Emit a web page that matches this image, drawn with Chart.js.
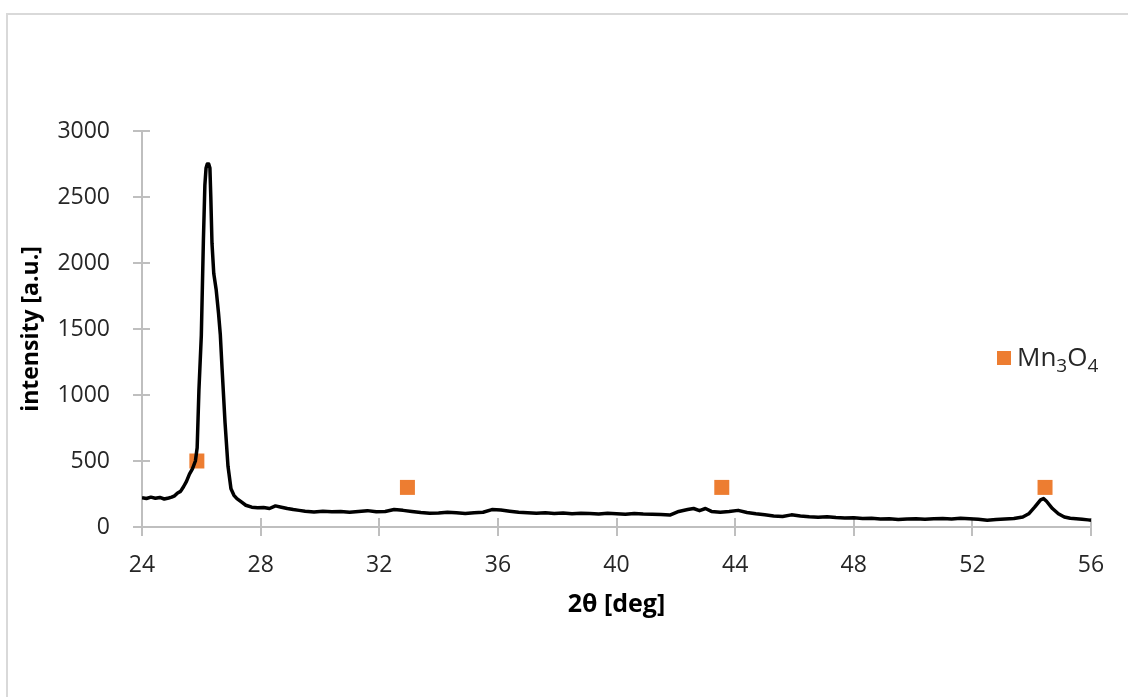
<!DOCTYPE html>
<html>
<head>
<meta charset="utf-8">
<title>XRD pattern</title>
<script src="https://cdn.jsdelivr.net/npm/chart.js@4.4.1/dist/chart.umd.min.js"></script>
<style>
  html, body { margin: 0; padding: 0; background: #fff; }
  #wrap { width: 1128px; height: 697px; position: relative; }
</style>
</head>
<body>
<div id="wrap"><canvas id="xrd"></canvas></div>
<script>
// diffraction scan: 2θ (deg) and measured intensity (a.u.)
const twoTheta = [
  24.0, 24.15, 24.3, 24.45, 24.6, 24.75, 24.9, 25.0, 25.1, 25.2, 25.3, 25.4, 25.5, 25.6, 25.7,
  25.8, 25.86, 25.92, 26.0, 26.07, 26.12, 26.16, 26.2, 26.25, 26.29, 26.32, 26.36, 26.42, 26.5,
  26.58, 26.64, 26.7, 26.8, 26.9, 27.0, 27.1, 27.2, 27.35, 27.5, 27.7, 27.9, 28.1, 28.3,
  28.5, 28.7, 28.9, 29.1, 29.3, 29.5, 29.8, 30.1, 30.4, 30.7, 31.0, 31.3, 31.6, 31.9, 32.2,
  32.5, 32.8, 33.1, 33.4, 33.7, 34.0, 34.3, 34.6, 34.9, 35.2, 35.5, 35.8, 36.1, 36.4, 36.7,
  37.0, 37.3, 37.6, 37.9, 38.2, 38.5, 38.8, 39.1, 39.4, 39.7, 40.0, 40.3, 40.6, 40.9, 41.2,
  41.5, 41.8, 42.1, 42.4, 42.6, 42.8, 43.0, 43.2, 43.5, 43.8, 44.1, 44.4, 44.7, 45.0, 45.3,
  45.6, 45.9, 46.2, 46.5, 46.8, 47.1, 47.4, 47.7, 48.0, 48.3, 48.6, 48.9, 49.2, 49.5, 49.8,
  50.1, 50.4, 50.7, 51.0, 51.3, 51.6, 51.9, 52.2, 52.5, 52.8, 53.1, 53.4, 53.7, 53.9, 54.1,
  54.3, 54.4, 54.5, 54.7, 54.9, 55.1, 55.3, 55.5, 55.7, 55.9, 56.0
];
const intensity = [
  222, 216, 226, 218, 224, 212, 220, 226, 236, 258, 270, 305, 345, 400, 440,
  500, 600, 1040, 1450, 2170, 2590, 2720, 2750, 2750, 2720, 2500, 2150, 1920, 1800,
  1620, 1460, 1200, 790, 460, 290, 240, 215, 190, 165, 150, 145, 148, 140,
  160, 150, 140, 132, 126, 120, 114, 120, 116, 118, 112, 118, 124, 115, 118,
  132, 126, 118, 110, 104, 106, 112, 108, 102, 108, 112, 132, 128, 120, 112,
  108, 104, 108, 102, 106, 100, 104, 102, 98, 104, 100, 96, 102, 98, 96,
  94, 90, 118, 132, 140, 124, 140, 118, 112, 118, 126, 110, 100, 92, 84,
  80, 92, 84, 78, 74, 78, 72, 68, 70, 64, 66, 60, 62, 56, 60,
  62, 58, 62, 64, 60, 66, 62, 58, 52, 56, 60, 64, 76, 100, 150,
  205, 215, 195, 140, 100, 76, 66, 62, 58, 54, 52
];

// Mn3O4 reflections marked above the pattern
const phaseAngle = [25.85, 32.95, 43.55, 54.45];
const phaseLevel = [500, 300, 300, 300];

const xTicks = [24, 28, 32, 36, 40, 44, 48, 52, 56];
const yTicks = [0, 500, 1000, 1500, 2000, 2500, 3000];

const AXIS_GREY = '#bfbfbf';
const TEXT = '#262626';
const ORANGE = '#ed7d31';
const FONT = '"Open Sans", Lato, sans-serif';

// axis ticks crossing the axis line, outer frame and the phase legend
const decor = {
  id: 'decor',
  beforeDatasetsDraw(chart) {
    const { ctx, scales: { x, y } } = chart;
    ctx.save();
    ctx.strokeStyle = AXIS_GREY;
    ctx.lineWidth = 2;
    ctx.beginPath();
    xTicks.forEach(v => {
      const px = Math.round(x.getPixelForValue(v));
      ctx.moveTo(px, y.bottom - 9);
      ctx.lineTo(px, y.bottom + 9);
    });
    yTicks.forEach(v => {
      const py = Math.round(y.getPixelForValue(v));
      ctx.moveTo(x.left - 9, py);
      ctx.lineTo(x.left + 8, py);
    });
    ctx.stroke();
    ctx.restore();
  },
  afterDraw(chart) {
    const { ctx } = chart;
    ctx.save();
    ctx.strokeStyle = '#d9d9d9';
    ctx.lineWidth = 2;
    ctx.strokeRect(7, 14, 1200, 800);

    // legend entry
    ctx.fillStyle = ORANGE;
    ctx.fillRect(997, 351, 14, 14);
    ctx.fillStyle = TEXT;
    ctx.textBaseline = 'alphabetic';
    let tx = 1017;
    const base = 366;
    const big = '26px ' + FONT;
    const small = '19px ' + FONT;
    [['Mn', big, 0], ['3', small, 6], ['O', big, 0], ['4', small, 6]].forEach(([s, f, dy]) => {
      ctx.font = f;
      ctx.fillText(s, tx, base + dy);
      tx += ctx.measureText(s).width;
    });
    ctx.restore();
  }
};

new Chart(document.getElementById('xrd'), {
  type: 'scatter',
  data: {
    datasets: [
      {
        label: 'pattern',
        data: twoTheta.map((t, i) => ({ x: t, y: intensity[i] })),
        showLine: true,
        borderColor: '#000',
        borderWidth: 3.5,
        borderJoinStyle: 'round',
        pointRadius: 0,
        tension: 0
      },
      {
        label: 'Mn3O4',
        data: phaseAngle.map((t, i) => ({ x: t, y: phaseLevel[i] })),
        pointStyle: 'rect',
        pointRadius: 10.6,
        backgroundColor: ORANGE,
        borderWidth: 0
      }
    ]
  },
  options: {
    responsive: true,
    maintainAspectRatio: false,
    animation: false,
    layout: { padding: { left: 0, right: 37, top: 131, bottom: 0 } },
    plugins: { legend: { display: false }, tooltip: { enabled: false } },
    scales: {
      x: {
        type: 'linear',
        min: 24,
        max: 56,
        afterBuildTicks: s => { s.ticks = xTicks.map(v => ({ value: v })); },
        afterFit: s => { s.height = 170; },
        grid: { display: false },
        border: { display: true, color: AXIS_GREY, width: 2 },
        ticks: { color: TEXT, font: { family: FONT, size: 23 }, padding: 17 },
        title: {
          display: true,
          text: '2θ [deg]',
          color: '#000',
          font: { family: FONT, size: 25, weight: 'bold' },
          padding: { top: 0, bottom: 77 }
        }
      },
      y: {
        type: 'linear',
        min: 0,
        max: 3000,
        afterBuildTicks: s => { s.ticks = yTicks.map(v => ({ value: v })); },
        afterFit: s => { s.width = 142; },
        grid: { display: false },
        border: { display: true, color: AXIS_GREY, width: 2 },
        ticks: {
          color: TEXT,
          font: { family: FONT, size: 23 },
          padding: 24,
          callback: v => String(v)
        },
        title: {
          display: true,
          text: 'intensity [a.u.]',
          color: '#000',
          font: { family: FONT, size: 23, weight: 'bold' },
          padding: { top: 18, bottom: 0 }
        }
      }
    }
  },
  plugins: [decor]
});
</script>
</body>
</html>
